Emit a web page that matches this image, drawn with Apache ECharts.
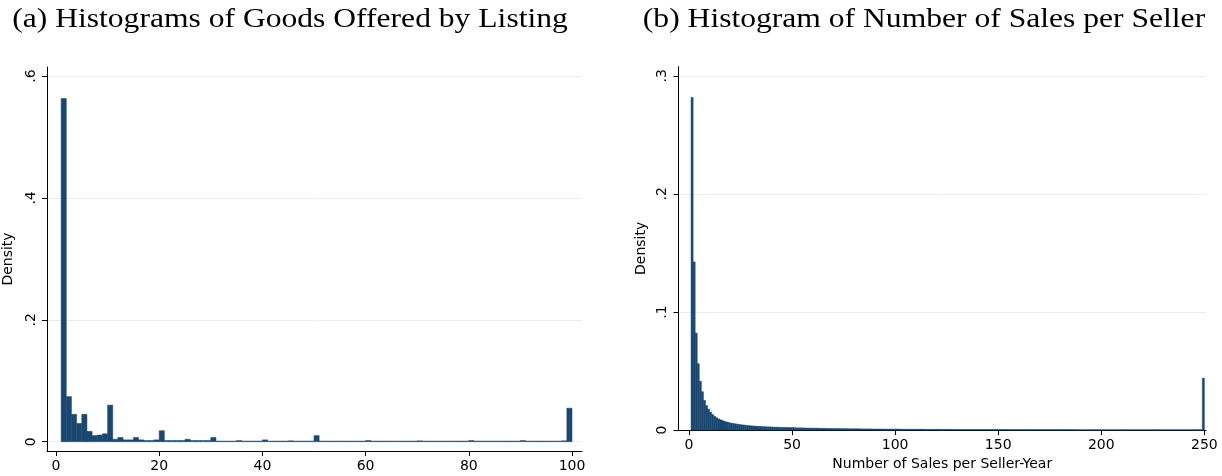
<!DOCTYPE html>
<html>
<head>
<meta charset="utf-8">
<script src="https://cdn.jsdelivr.net/npm/echarts@6/dist/echarts.min.js"></script>
<style>html,body{margin:0;padding:0;background:#fff}#c{width:1222px;height:476px}</style>
</head>
<body>
<div id="c"></div>
<script>
// ---------- DATA ----------
const titleA = '(a) Histograms of Goods Offered by Listing';
const titleB = '(b) Histogram of Number of Sales per Seller';
const yName = 'Density';
const xNameB = 'Number of Sales per Seller-Year';

// Panel (a): 99 bins of width 1 starting at 1 (last bin [99,100])
const goodsBinStart = 1;
const goodsBinWidth = 1;
const goodsDensity = [
  0.563, 0.074, 0.045, 0.030, 0.045, 0.017, 0.010, 0.011, 0.013, 0.060,
  0.004, 0.007, 0.003, 0.003, 0.007, 0.003, 0.002, 0.002, 0.003, 0.018,
  0.002, 0.002, 0.002, 0.002, 0.004, 0.002, 0.002, 0.002, 0.002, 0.007,
  0.001, 0.001, 0.001, 0.001, 0.002, 0.001, 0.001, 0.001, 0.001, 0.003,
  0.001, 0.001, 0.001, 0.001, 0.0015, 0.001, 0.001, 0.001, 0.001, 0.010,
  0.001, 0.001, 0.001, 0.001, 0.001, 0.001, 0.001, 0.001, 0.001, 0.002,
  0.001, 0.001, 0.001, 0.001, 0.001, 0.001, 0.001, 0.001, 0.001, 0.0015,
  0.001, 0.001, 0.001, 0.001, 0.001, 0.001, 0.001, 0.001, 0.001, 0.002,
  0.001, 0.001, 0.001, 0.001, 0.001, 0.001, 0.001, 0.001, 0.001, 0.002,
  0.001, 0.001, 0.001, 0.001, 0.001, 0.001, 0.001, 0.0015, 0.055
];

// Panel (b): 249 bins of width 1 starting at 1 (last bin [249,250])
const salesBinStart = 1;
const salesBinWidth = 1;
const salesDensity = [
  0.2817, 0.1424, 0.0821, 0.0562, 0.0414, 0.0325, 0.0252, 0.0208, 0.0178, 0.0152,
  0.0131, 0.0116, 0.0104, 0.0094, 0.0086, 0.0079, 0.0073, 0.0068, 0.0063, 0.0059,
  0.0056, 0.0053, 0.0050, 0.0047, 0.0045, 0.0043, 0.0041, 0.0039, 0.0037, 0.0036,
  0.0034, 0.0033, 0.0032, 0.0031, 0.0030, 0.0029, 0.0028, 0.0027, 0.0027, 0.0026,
  0.0025, 0.0025, 0.0024, 0.0023, 0.0023, 0.0022, 0.0022, 0.0021, 0.0021, 0.0022,
  0.0020, 0.0019, 0.0019, 0.0019, 0.0018, 0.0018, 0.0017, 0.0017, 0.0017, 0.0016,
  0.0016, 0.0016, 0.0015, 0.0015, 0.0015, 0.0014, 0.0014, 0.0014, 0.0014, 0.0013,
  0.0013, 0.0013, 0.0013, 0.0012, 0.0012, 0.0012, 0.0012, 0.0011, 0.0011, 0.0011,
  0.0011, 0.0011, 0.0010, 0.0010, 0.0010, 0.0010, 0.0010, 0.0010, 0.0009, 0.0009,
  0.0009, 0.0009, 0.0009, 0.0009, 0.0008, 0.0008, 0.0008, 0.0008, 0.0008, 0.0009,
  0.0008, 0.0008, 0.0007, 0.0007, 0.0007, 0.0007, 0.0007, 0.0007, 0.0007, 0.0007,
  0.0007, 0.0007, 0.0007, 0.0006, 0.0006, 0.0006, 0.0006, 0.0006, 0.0006, 0.0006,
  0.0006, 0.0006, 0.0006, 0.0006, 0.0006, 0.0006, 0.0006, 0.0005, 0.0005, 0.0005,
  0.0005, 0.0005, 0.0005, 0.0005, 0.0005, 0.0005, 0.0005, 0.0005, 0.0005, 0.0005,
  0.0005, 0.0005, 0.0005, 0.0005, 0.0005, 0.0005, 0.0005, 0.0005, 0.0005, 0.0005,
  0.0005, 0.0005, 0.0005, 0.0005, 0.0004, 0.0004, 0.0004, 0.0004, 0.0004, 0.0004,
  0.0004, 0.0004, 0.0004, 0.0004, 0.0004, 0.0004, 0.0004, 0.0004, 0.0004, 0.0004,
  0.0004, 0.0004, 0.0004, 0.0004, 0.0004, 0.0004, 0.0004, 0.0004, 0.0004, 0.0004,
  0.0004, 0.0004, 0.0004, 0.0004, 0.0004, 0.0004, 0.0003, 0.0003, 0.0003, 0.0003,
  0.0003, 0.0003, 0.0003, 0.0003, 0.0003, 0.0003, 0.0003, 0.0003, 0.0003, 0.0003,
  0.0003, 0.0003, 0.0003, 0.0003, 0.0003, 0.0003, 0.0003, 0.0003, 0.0003, 0.0003,
  0.0003, 0.0003, 0.0003, 0.0003, 0.0003, 0.0003, 0.0003, 0.0003, 0.0003, 0.0003,
  0.0003, 0.0003, 0.0003, 0.0003, 0.0003, 0.0003, 0.0003, 0.0003, 0.0003, 0.0003,
  0.0003, 0.0003, 0.0003, 0.0003, 0.0003, 0.0003, 0.0003, 0.0003, 0.0003, 0.0003,
  0.0003, 0.0003, 0.0003, 0.0003, 0.0003, 0.0003, 0.0003, 0.0003, 0.0440
];

// Ticks
const goodsXTicks = [0, 20, 40, 60, 80, 100];
const goodsYTicks = [0, 0.2, 0.4, 0.6];
const goodsYTickLabels = ['0', '.2', '.4', '.6'];
const salesXTicks = [0, 50, 100, 150, 200, 250];
const salesYTicks = [0, 0.1, 0.2, 0.3];
const salesYTickLabels = ['0', '.1', '.2', '.3'];

// ---------- CHART ----------
const BAR = '#1a476f';
const GRID = '#e6eff2';
const AX = '#000000';
const FONT = 'DejaVu Sans';

function toBins(start, width, vals) {
  return vals.map((v, i) => [start + i * width, start + (i + 1) * width, v]);
}
function renderBar(params, api) {
  const p0 = api.coord([api.value(0), 0]);
  const p1 = api.coord([api.value(1), api.value(2)]);
  return {
    type: 'rect',
    shape: { x: p0[0], y: p1[1], width: p1[0] - p0[0], height: p0[1] - p1[1] },
    style: { fill: BAR, stroke: BAR, lineWidth: 0.5 }
  };
}
function fmt(ticks, labels) {
  return v => {
    for (let i = 0; i < ticks.length; i++) if (Math.abs(ticks[i] - v) < 1e-9) return labels[i];
    return '';
  };
}
function xAxisCfg(idx, min, max, ticks, name) {
  return {
    type: 'value', gridIndex: idx, min: min, max: max,
    name: name || '', nameLocation: 'middle', nameGap: 26,
    nameTextStyle: { fontFamily: FONT, fontSize: 14, color: '#000' },
    axisLine: { show: true, onZero: false, lineStyle: { color: AX, width: 1 } },
    axisTick: { show: true, length: 5, customValues: ticks, lineStyle: { color: AX } },
    axisLabel: { customValues: ticks, fontFamily: FONT, fontSize: 14, color: '#000', margin: 8 },
    splitLine: { show: false }
  };
}
function yAxisCfg(idx, min, max, ticks, labels, gap) {
  return {
    type: 'value', gridIndex: idx, min: min, max: max,
    name: yName, nameLocation: 'middle', nameGap: gap,
    nameTextStyle: { fontFamily: FONT, fontSize: 14, color: '#000' },
    axisLine: { show: true, onZero: false, lineStyle: { color: AX, width: 1 } },
    axisTick: { show: true, length: 5, customValues: ticks, lineStyle: { color: AX } },
    axisLabel: { customValues: ticks, rotate: 90, formatter: fmt(ticks, labels),
      fontFamily: FONT, fontSize: 14, color: '#000', margin: 9 },
    splitLine: { show: true, lineStyle: { color: GRID, width: 1 } }
  };
}
function titleText(text, cx) {
  return {
    type: 'text', x: cx, y: 20, scaleX: 1.17, scaleY: 1,
    style: { text: text, fontFamily: 'Liberation Serif', fontSize: 27,
      align: 'center', verticalAlign: 'middle', fill: '#000' }
  };
}

const chart = echarts.init(document.getElementById('c'), null, { renderer: 'canvas' });
chart.setOption({
  animation: false,
  backgroundColor: '#fff',
  graphic: [ titleText(titleA, 290), titleText(titleB, 924) ],
  grid: [
    { left: 47, right: 640, top: 67, bottom: 25 },
    { left: 678.5, right: 16, top: 66.7, bottom: 40.3 }
  ],
  xAxis: [
    xAxisCfg(0, -1.743, 101.94, goodsXTicks),
    xAxisCfg(1, -5.09, 250.8, salesXTicks, xNameB)
  ],
  yAxis: [
    yAxisCfg(0, -0.01526, 0.6148, goodsYTicks, goodsYTickLabels, 32),
    yAxisCfg(1, 0, 0.3077, salesYTicks, salesYTickLabels, 30)
  ],
  series: [
    { type: 'custom', xAxisIndex: 0, yAxisIndex: 0, renderItem: renderBar,
      encode: { x: [0, 1], y: 2 }, data: toBins(goodsBinStart, goodsBinWidth, goodsDensity) },
    { type: 'custom', xAxisIndex: 1, yAxisIndex: 1, renderItem: renderBar,
      encode: { x: [0, 1], y: 2 }, data: toBins(salesBinStart, salesBinWidth, salesDensity) }
  ]
});
</script>
</body>
</html>
